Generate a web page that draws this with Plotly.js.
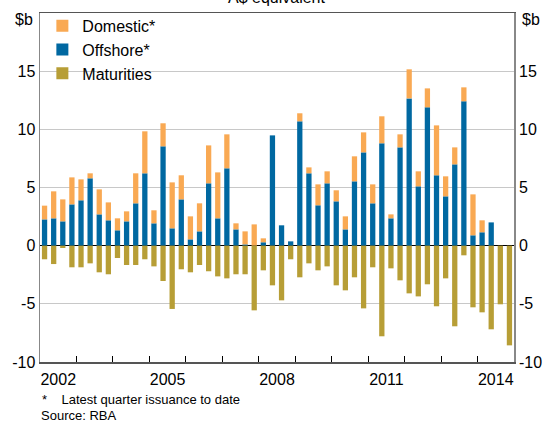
<!DOCTYPE html>
<html>
<head>
<meta charset="utf-8">
<script src="https://cdn.plot.ly/plotly-3.0.1.min.js"></script>
<style>html,body{margin:0;padding:0;background:#fff;}#chart{width:547px;height:423px;}</style>
</head>
<body>
<div id="chart"></div>
<script>
// Quarterly, 2002 Q1 to 2014 Q4
const startYear = 2002;
const offshore = [2.26,2.35,2.09,3.55,3.90,5.79,2.69,2.18,
  1.32,2.09,3.64,6.22,1.92,8.54,1.49,3.98,
  0.54,1.23,5.36,2.35,6.65,1.40,0.11,0.00,
  0.29,9.48,1.75,0.37,10.69,6.22,3.47,5.36,
  3.81,1.40,5.53,8.02,3.64,8.80,2.35,8.45,
  12.66,5.10,11.89,6.05,4.24,6.99,12.41,0.89,
  1.15,2.00,0,0];
const domestic = [1.18,2.32,1.89,2.32,1.80,0.43,2.15,1.54,
  1.03,0.86,2.58,3.61,1.12,1.98,3.95,2.07,
  1.98,2.41,3.26,3.95,2.92,0.52,1.12,1.83,
  0.34,0,0,0,0.69,0.51,1.80,1.03,
  0.95,1.12,2.15,1.72,1.63,2.32,0.34,1.12,
  2.50,1.29,1.63,4.29,1.72,1.46,1.20,3.52,
  1.03,0,0,0];
const maturities = [-1.17,-1.58,-0.20,-1.86,-1.86,-1.52,-2.29,-2.46,
  -1.06,-1.66,-1.66,-1.17,-1.78,-3.04,-5.44,-2.03,
  -2.29,-1.66,-2.20,-2.64,-2.81,-2.46,-2.46,-5.56,
  -2.12,-3.41,-4.70,-1.17,-2.72,-1.52,-2.12,-1.78,
  -3.41,-3.84,-2.72,-5.39,-1.86,-7.79,-1.95,-2.98,
  -4.10,-4.36,-3.32,-5.21,-2.81,-6.93,-0.83,-5.30,
  -5.73,-7.19,-5.04,-8.57];
const yearTicks = [2002,2003,2004,2005,2006,2007,2008,2009,2010,2011,2012,2013,2014,2015];
const yearLabels = ['2002','2005','2008','2011','2014'];

const xq = offshore.map((_, i) => startYear + i / 4 + 0.125);
const labelPos = yearLabels.map(s => parseInt(s) + 0.5);

const FONT = 'Arial, "Liberation Sans", sans-serif';
const cOrange = '#F9A953', cBlue = '#0068A1', cOlive = '#B79E36';

const traces = [
  {type:'bar', name:'Offshore*', x:xq, y:offshore, marker:{color:cBlue}, legendrank:2},
  {type:'bar', name:'Domestic*', x:xq, y:domestic, marker:{color:cOrange}, legendrank:1},
  {type:'bar', name:'Maturities', x:xq, y:maturities, marker:{color:cOlive}, legendrank:3},
  {type:'scatter', x:[null], y:[null], xaxis:'x2', yaxis:'y2', showlegend:false, hoverinfo:'skip'}
];

const layout = {
  width:547, height:423,
  margin:{l:40, r:33, t:13, b:61, autoexpand:false},
  paper_bgcolor:'#fff', plot_bgcolor:'#fff',
  font:{family:FONT, size:16, color:'#000'},
  barmode:'relative', bargap:0.42,
  showlegend:true,
  legend:{x:0.005, y:1.012, xanchor:'left', yanchor:'top', bgcolor:'rgba(0,0,0,0)',
    font:{family:FONT, size:16}, traceorder:'normal', itemwidth:30, tracegroupgap:0},
  xaxis:{range:[2002,2015], tickmode:'array', tickvals:yearTicks, showticklabels:false,
    ticks:'inside', ticklen:6, tickcolor:'#000', showgrid:false, zeroline:false,
    showline:true, linecolor:'#555', linewidth:1.5, mirror:true, fixedrange:true},
  xaxis2:{overlaying:'x', side:'bottom', range:[2002,2015], tickmode:'array',
    tickvals:labelPos, ticktext:yearLabels, ticks:'', showgrid:false, zeroline:false,
    showline:false, ticklabelstandoff:6, tickfont:{family:FONT, size:16}},
  yaxis:{range:[-10,20], tickmode:'array', tickvals:[-10,-5,0,5,10,15],
    ticktext:['-10','-5','0','5','10','15'], ticks:'', showgrid:true, gridcolor:'#c8c8c8', gridwidth:1,
    zeroline:true, zerolinecolor:'#000', zerolinewidth:1.5,
    showline:true, linecolor:'#888', linewidth:1.5, mirror:true, tickfont:{family:FONT, size:16}},
  yaxis2:{overlaying:'y', side:'right', range:[-10,20], tickmode:'array', tickvals:[-10,-5,0,5,10,15],
    ticktext:['-10','-5','0','5','10','15'], showgrid:false, zeroline:false, showline:false,
    ticklabelstandoff:4, tickfont:{family:FONT, size:16}},
  annotations:[
    {text:'A$ equivalent', xref:'paper', yref:'paper', x:0.5, y:1.045, xanchor:'center', yanchor:'middle',
     showarrow:false, font:{family:FONT, size:16}},
    {text:'$b', xref:'paper', yref:'paper', x:-0.01, y:0.98, xanchor:'right', yanchor:'middle',
     showarrow:false, font:{family:FONT, size:16}},
    {text:'$b', xref:'paper', yref:'paper', x:1.012, y:0.98, xanchor:'left', yanchor:'middle',
     showarrow:false, font:{family:FONT, size:16}},
    {text:'*    Latest quarter issuance to date', xref:'paper', yref:'paper', x:0.0, y:-0.108,
     xanchor:'left', yanchor:'middle', showarrow:false, font:{family:FONT, size:13}},
    {text:'Source: RBA', xref:'paper', yref:'paper', x:-0.003, y:-0.153, xanchor:'left', yanchor:'middle',
     showarrow:false, font:{family:FONT, size:13}}
  ]
};

Plotly.newPlot('chart', traces, layout, {staticPlot:true, displayModeBar:false});
</script>
</body>
</html>
